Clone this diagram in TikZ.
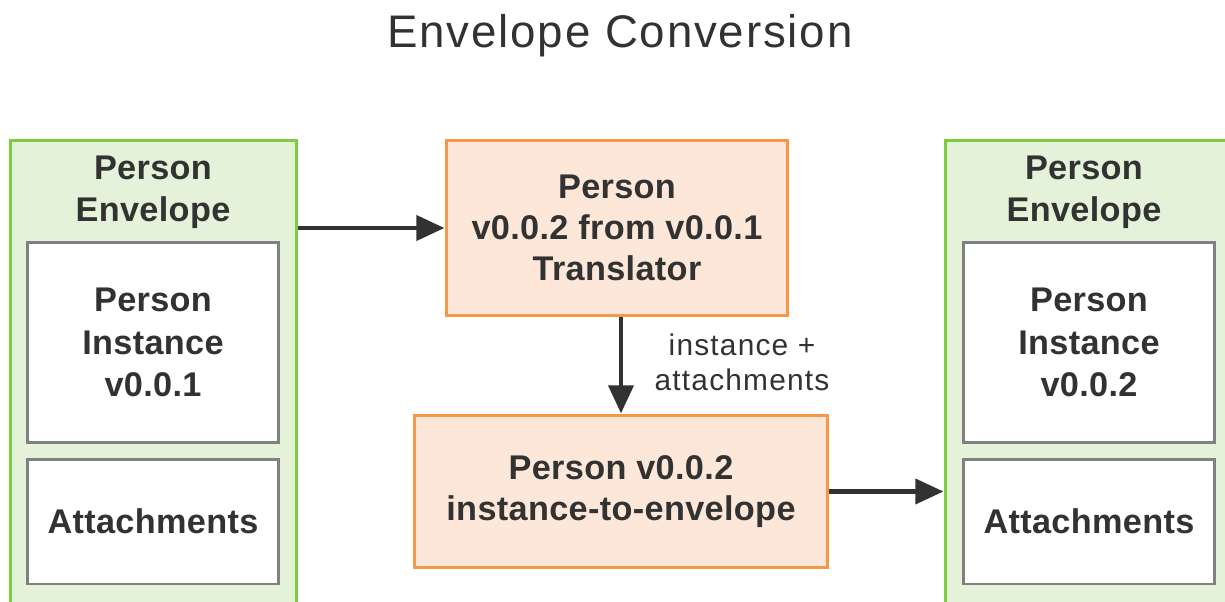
\documentclass[tikz,border=0pt]{standalone}
\usepackage{fontspec}
\setmainfont{Liberation Sans}
\usepackage{tikz}
\usetikzlibrary{arrows.meta, positioning, calc}
\definecolor{mydark}{RGB}{50,50,50}
\definecolor{mygreen}{RGB}{125,205,60}
\definecolor{hdrgreen}{RGB}{227,242,217}
\definecolor{myorange}{RGB}{246,152,74}
\definecolor{hdrorange}{RGB}{252,231,216}
\definecolor{mygray}{RGB}{128,128,128}
\tikzset{
  envblock/.style={rectangle, draw=mygreen, fill=hdrgreen,
    line width=1.7pt, inner sep=0pt},
  innerblock/.style={rectangle, draw=mygray, fill=white,
    minimum width=5.04cm, align=center, line width=1.7pt,
    text=mydark, font=\fontsize{19.5}{24}\selectfont\bfseries\addfontfeature{LetterSpace=1}},
  orangeblock/.style={rectangle, draw=myorange, fill=hdrorange,
    align=center, line width=1.7pt, text=mydark,
    font=\fontsize{19.5}{23.5}\selectfont\bfseries\addfontfeature{LetterSpace=1}},
  envlabel/.style={align=center, text=mydark,
    font=\fontsize{19.5}{24}\selectfont\bfseries\addfontfeature{LetterSpace=1}},
  arrow/.style={-{Triangle[length=16pt, width=14pt]}, line width=2.8pt, color=mydark},
}
\begin{document}
\begin{tikzpicture}[x=0.02cm, y=-0.02cm]
  \useasboundingbox (0,0) rectangle (1225,602);
  \clip (0,0) rectangle (1225,602);
  % title
  \node[text=mydark, font=\fontsize{26}{30}\selectfont\addfontfeature{LetterSpace=4}] (title) at (620,36) {Envelope Conversion};

  % ── source envelope (left) ──
  \node[envblock, minimum width=5.74cm, minimum height=9.6cm] (envL) at (153.5,380) {};
  \node[envlabel] (envLlbl) at (153,192) {Person\\Envelope};
  \node[innerblock, minimum height=4.02cm] (instL) at (153,342.5) {Person\\Instance\\v0.0.1};
  \node[innerblock, minimum height=2.5cm] (attL) at (153,521.5) {Attachments};

  % ── target envelope (right) ──
  \node[envblock, minimum width=6cm, minimum height=9.6cm] (envR) at (1095,380) {};
  \node[envlabel] (envRlbl) at (1084,192) {Person\\Envelope};
  \node[innerblock, minimum height=4.02cm] (instR) at (1089,342.5) {Person\\Instance\\v0.0.2};
  \node[innerblock, minimum height=2.5cm] (attR) at (1089,521.5) {Attachments};

  % ── converters ──
  \node[orangeblock, minimum width=6.84cm, minimum height=3.52cm] (trans) at (617,228)
    {Person\\v0.0.2 from v0.0.1\\Translator};
  \node[orangeblock, minimum width=8.28cm, minimum height=3.06cm] (conv) at (621,491.5)
    {Person v0.0.2\\instance-to-envelope};

  % arrows
  \draw[arrow] (envL.east |- trans.west) -- (trans.west);
  \draw[arrow] (conv.north |- trans.south) -- (conv.north);
  \draw[arrow] (conv.east) -- (envR.west |- conv.east);
  \node[align=center, text=mydark, font=\fontsize{17}{20}\selectfont\addfontfeature{LetterSpace=4}] (lbl) at (742,362)
    {instance +\\attachments};
\end{tikzpicture}
\end{document}
